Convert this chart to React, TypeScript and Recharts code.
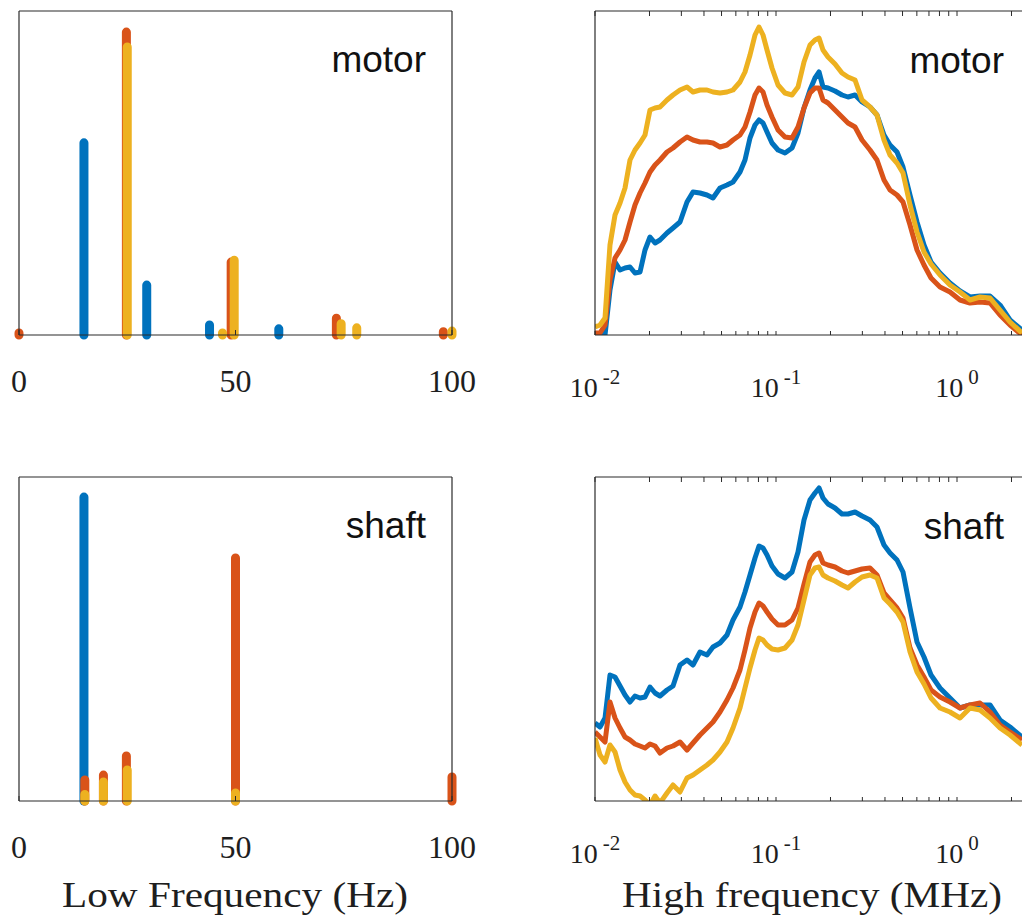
import React from 'react';
import { LineChart, Line, XAxis, YAxis, Customized } from 'recharts';

// ---------- Low frequency (Hz) spectra: spike positions and amplitudes ----------
const motorLfBlueFreq = [15, 29.5, 44, 60];
const motorLfBlueAmp = [0.593, 0.154, 0.031, 0.019];
const motorLfRedFreq = [0, 24.8, 49, 73.3, 98];
const motorLfRedAmp = [0.006, 0.935, 0.225, 0.052, 0.01];
const motorLfYellowFreq = [25, 47, 49.7, 74.4, 78, 100];
const motorLfYellowAmp = [0.889, 0.006, 0.231, 0.035, 0.022, 0.012];

const shaftLfBlueFreq = [15];
const shaftLfBlueAmp = [0.938];
const shaftLfRedFreq = [15.2, 19.5, 24.8, 50, 100];
const shaftLfRedAmp = [0.065, 0.08, 0.139, 0.75, 0.074];
const shaftLfYellowFreq = [15.2, 19.5, 25, 50];
const shaftLfYellowAmp = [0.02, 0.059, 0.096, 0.025];

const LF_TICKS = [0, 50, 100];

// ---------- High frequency (MHz) spectra ----------
const FREQ_HF = [
  0.01, 0.01066, 0.01136, 0.0121, 0.0129, 0.01375, 0.01465, 0.01561, 0.01663, 0.01773,
  0.01889, 0.02013, 0.02146, 0.02286, 0.02499, 0.02698, 0.02949, 0.03223, 0.03479, 0.03803,
  0.04157, 0.04486, 0.04905, 0.05361, 0.05787, 0.06326, 0.0674, 0.07184, 0.07656, 0.08056,
  0.08477, 0.0892, 0.09504, 0.1026, 0.1121, 0.1226, 0.1323, 0.1428, 0.1541, 0.1642,
  0.1729, 0.1818, 0.1938, 0.2118, 0.2315, 0.2499, 0.2733, 0.2987, 0.3306, 0.3614,
  0.3951, 0.4265, 0.4662, 0.5031, 0.5501, 0.6012, 0.6572, 0.7185, 0.8056, 0.9146,
  1.039, 1.18, 1.34, 1.522, 1.728, 1.963, 2.286,
];

const motorHfYellow = [
  8, 10, 17, 90, 120, 132, 147, 175, 185, 192,
  200, 225, 227, 228, 235, 240, 245, 248, 243, 245,
  245, 243, 242, 243, 245, 253, 263, 280, 300, 308,
  300, 285, 267, 250, 242, 240, 248, 273, 290, 295,
  297, 285, 278, 271, 262, 258, 255, 235, 228, 220,
  195, 180, 172, 162, 130, 103, 83, 71, 60, 50,
  43, 35, 38, 37, 25, 13, 2,
];
const motorHfRed = [
  2, 2, 10, 55, 77, 85, 95, 113, 130, 142,
  152, 163, 170, 175, 183, 187, 193, 198, 195, 193,
  193, 192, 188, 190, 195, 200, 208, 223, 240, 247,
  243, 230, 218, 205, 198, 197, 208, 227, 242, 247,
  247, 235, 232, 225, 218, 212, 208, 195, 185, 175,
  155, 145, 140, 133, 110, 85, 70, 57, 48, 43,
  35, 32, 33, 32, 20, 10, 0,
];
const motorHfBlue = [
  0, 0, 0, 45, 73, 65, 67, 68, 62, 63,
  85, 98, 92, 95, 102, 107, 113, 133, 143, 142,
  140, 137, 147, 150, 153, 163, 175, 197, 210, 215,
  212, 203, 192, 185, 182, 187, 202, 227, 245, 257,
  263, 248, 247, 244, 240, 238, 240, 233, 228, 220,
  200, 190, 183, 168, 140, 113, 90, 73, 62, 52,
  44, 38, 39, 39, 30, 15, 5,
];

const shaftHfBlue = [
  78, 74, 83, 126, 124, 115, 106, 99, 105, 103,
  104, 114, 108, 105, 111, 115, 136, 141, 136, 149,
  146, 154, 158, 166, 181, 194, 209, 226, 243, 255,
  253, 246, 235, 227, 223, 229, 249, 281, 301, 308,
  313, 303, 297, 293, 287, 287, 289, 285, 281, 274,
  256, 248, 241, 229, 193, 159, 144, 126, 113, 103,
  93, 96, 96, 96, 81, 74, 64,
];
const shaftHfRed = [
  69, 64, 59, 99, 83, 73, 64, 61, 57, 55,
  53, 57, 55, 48, 53, 55, 59, 51, 58, 66,
  73, 79, 89, 101, 113, 131, 151, 173, 189, 198,
  195, 189, 182, 176, 176, 181, 193, 217, 239, 246,
  248, 238, 236, 234, 230, 228, 230, 232, 233, 226,
  208, 201, 193, 183, 153, 136, 124, 111, 104, 99,
  93, 96, 98, 89, 76, 69, 61,
];
const shaftHfYellow = [
  63, 46, 39, 56, 49, 31, 19, 11, 6, 5,
  1, -4, 5, -2, 8, 16, 9, 23, 26, 31,
  36, 41, 49, 59, 73, 93, 113, 133, 151, 163,
  161, 156, 152, 151, 153, 161, 176, 201, 226, 233,
  234, 226, 223, 220, 216, 213, 219, 224, 226, 223,
  203, 197, 189, 179, 149, 129, 117, 103, 93, 89,
  83, 93, 91, 83, 73, 66, 56,
];

const HF_TICKS = [
  0.01, 0.02, 0.03, 0.04, 0.05, 0.06, 0.07, 0.08, 0.09,
  0.1, 0.2, 0.3, 0.4, 0.5, 0.6, 0.7, 0.8, 0.9,
  1, 2,
];
const HF_MAJOR: Record<string, string> = { '0.01': '-2', '0.1': '-1', '1': '0' };

// ---------- styling ----------
const BLUE = '#0072BD';
const RED = '#D95319';
const YELLOW = '#EDB120';
const AXIS = '#2b2b2b';
const SERIF = '"Liberation Serif", "Times New Roman", serif';
const SANS = '"Liberation Sans", Arial, sans-serif';

type Pt = { f: number; v: number | null };
function spikes(freqs: number[], amps: number[]): Pt[] {
  const out: Pt[] = [];
  freqs.forEach((f, i) => {
    out.push({ f, v: 0 });
    out.push({ f, v: amps[i] });
    out.push({ f, v: null });
  });
  return out;
}

function hfTable(b: number[], r: number[], y: number[]) {
  return FREQ_HF.map((f, i) => ({ f, blue: b[i], red: r[i], yellow: y[i] }));
}

const LinTick = (props: any) => {
  const { x, y, payload } = props;
  return (
    <g>
      <line x1={x} x2={x} y1={y} y2={y - 5} stroke={AXIS} strokeWidth={1} />
      <text x={x} y={y + 57} textAnchor="middle" fontFamily={SERIF} fontSize={32} fill="#1e1e1e">
        {payload.value}
      </text>
    </g>
  );
};

const TopTick = (props: any) => {
  const { x, y } = props;
  return <line x1={x} x2={x} y1={y} y2={y + 5} stroke={AXIS} strokeWidth={1} />;
};

const LogTick = (props: any) => {
  const { x, y, payload } = props;
  const exp = HF_MAJOR[String(payload.value)];
  return (
    <g>
      <line x1={x} x2={x} y1={y} y2={y - 4} stroke={AXIS} strokeWidth={1} />
      {exp !== undefined && (
        <text x={x} y={y + 62} textAnchor="middle" fontFamily={SERIF} fontSize={28} fill="#1e1e1e">
          10
          <tspan dy={-13} dx={5} fontSize={21}>
            {exp}
          </tspan>
        </text>
      )}
    </g>
  );
};

const PanelText = ({ text, x, y }: { text: string; x: number; y: number }) => (
  <text x={x} y={y} textAnchor="end" fontFamily={SANS} fontSize={37} fill="#111">
    {text}
  </text>
);

const Title = ({ text, x, y, len }: { text: string; x: number; y: number; len: number }) => (
  <text
    x={x - len / 2}
    y={y}
    fontFamily={SERIF}
    fontSize={36}
    fill="#1e1e1e"
    textLength={len}
    lengthAdjust="spacingAndGlyphs"
  >
    {text}
  </text>
);

const axisLine = { stroke: AXIS, strokeWidth: 1.2 };

function LowPanel(props: {
  top: number;
  height: number;
  plotTop: number;
  blue: Pt[];
  red: Pt[];
  yellow: Pt[];
  label: string;
  title?: string;
}) {
  const { top, height, plotTop, blue, red, yellow, label, title } = props;
  const axisH = 70;
  const plotBottom = plotTop + 324;
  const barProps = {
    dataKey: 'v',
    strokeWidth: 9,
    strokeLinecap: 'round' as const,
    dot: false,
    activeDot: false,
    isAnimationActive: false,
    connectNulls: false,
  };
  return (
    <div style={{ position: 'absolute', left: 0, top, width: 480, height }}>
      <LineChart
        width={480}
        height={height}
        margin={{ left: 18, right: 27, top: plotTop - 1, bottom: height - plotBottom - axisH }}
      >
        <XAxis
          dataKey="f"
          type="number"
          domain={[0, 100]}
          ticks={LF_TICKS}
          interval={0}
          tickSize={0}
          tickMargin={0}
          tickLine={false}
          tick={<LinTick />}
          axisLine={axisLine}
          height={axisH}
        />
        <XAxis
          xAxisId="top"
          orientation="top"
          dataKey="f"
          type="number"
          domain={[0, 100]}
          ticks={LF_TICKS}
          interval={0}
          tickSize={0}
          tickMargin={0}
          tickLine={false}
          tick={<TopTick />}
          axisLine={axisLine}
          height={1}
        />
        <YAxis type="number" domain={[0, 1]} tick={false} tickLine={false} width={1} axisLine={axisLine} />
        <YAxis
          yAxisId="right"
          orientation="right"
          type="number"
          domain={[0, 1]}
          tick={false}
          tickLine={false}
          width={1}
          axisLine={axisLine}
        />
        <Line data={blue} stroke={BLUE} {...barProps} />
        <Line data={red} stroke={RED} {...barProps} />
        <Line data={yellow} stroke={YELLOW} {...barProps} />
        <Customized component={<PanelText text={label} x={426} y={plotTop + 61} />} />
        {title && <Customized component={<Title text={title} x={235} y={plotBottom + 106} len={346} />} />}
      </LineChart>
    </div>
  );
}

function HighPanel(props: {
  top: number;
  height: number;
  plotTop: number;
  data: { f: number; blue: number; red: number; yellow: number }[];
  label: string;
  title?: string;
}) {
  const { top, height, plotTop, data, label, title } = props;
  const axisH = 70;
  const plotBottom = plotTop + 324;
  const curveProps = {
    strokeWidth: 5,
    strokeLinejoin: 'round' as const,
    dot: false,
    activeDot: false,
    isAnimationActive: false,
  };
  return (
    <div style={{ position: 'absolute', left: 540, top, width: 482, height }}>
      <LineChart
        width={482}
        height={height}
        data={data}
        margin={{ left: 54, right: 0, top: plotTop - 1, bottom: height - plotBottom - axisH }}
      >
        <XAxis
          dataKey="f"
          type="number"
          scale="log"
          domain={[0.01, 2.286]}
          ticks={HF_TICKS}
          interval={0}
          allowDataOverflow
          tickSize={0}
          tickMargin={0}
          tickLine={false}
          tick={<LogTick />}
          axisLine={axisLine}
          height={axisH}
        />
        <XAxis
          xAxisId="top"
          orientation="top"
          dataKey="f"
          type="number"
          scale="log"
          domain={[0.01, 2.286]}
          ticks={HF_TICKS}
          interval={0}
          allowDataOverflow
          tickSize={0}
          tickMargin={0}
          tickLine={false}
          tick={<TopTick />}
          axisLine={axisLine}
          height={1}
        />
        <YAxis type="number" domain={[0, 324]} allowDataOverflow tick={false} tickLine={false} width={1} axisLine={axisLine} />
        <Line dataKey="blue" stroke={BLUE} {...curveProps} />
        <Line dataKey="red" stroke={RED} {...curveProps} />
        <Line dataKey="yellow" stroke={YELLOW} {...curveProps} />
        <Customized component={<PanelText text={label} x={464} y={plotTop + 62} />} />
        {title && <Customized component={<Title text={title} x={272} y={plotBottom + 106} len={380} />} />}
      </LineChart>
    </div>
  );
}

export default function App() {
  return (
    <div style={{ position: 'absolute', left: 0, top: 0, width: 1022, height: 921, background: '#fff', overflow: 'hidden' }}>
      <LowPanel
        top={0}
        height={440}
        plotTop={11}
        blue={spikes(motorLfBlueFreq, motorLfBlueAmp)}
        red={spikes(motorLfRedFreq, motorLfRedAmp)}
        yellow={spikes(motorLfYellowFreq, motorLfYellowAmp)}
        label="motor"
      />
      <HighPanel top={0} height={440} plotTop={11} data={hfTable(motorHfBlue, motorHfRed, motorHfYellow)} label="motor" />
      <LowPanel
        top={460}
        height={461}
        plotTop={17}
        blue={spikes(shaftLfBlueFreq, shaftLfBlueAmp)}
        red={spikes(shaftLfRedFreq, shaftLfRedAmp)}
        yellow={spikes(shaftLfYellowFreq, shaftLfYellowAmp)}
        label="shaft"
        title="Low Frequency (Hz)"
      />
      <HighPanel
        top={460}
        height={461}
        plotTop={17}
        data={hfTable(shaftHfBlue, shaftHfRed, shaftHfYellow)}
        label="shaft"
        title="High frequency (MHz)"
      />
    </div>
  );
}
